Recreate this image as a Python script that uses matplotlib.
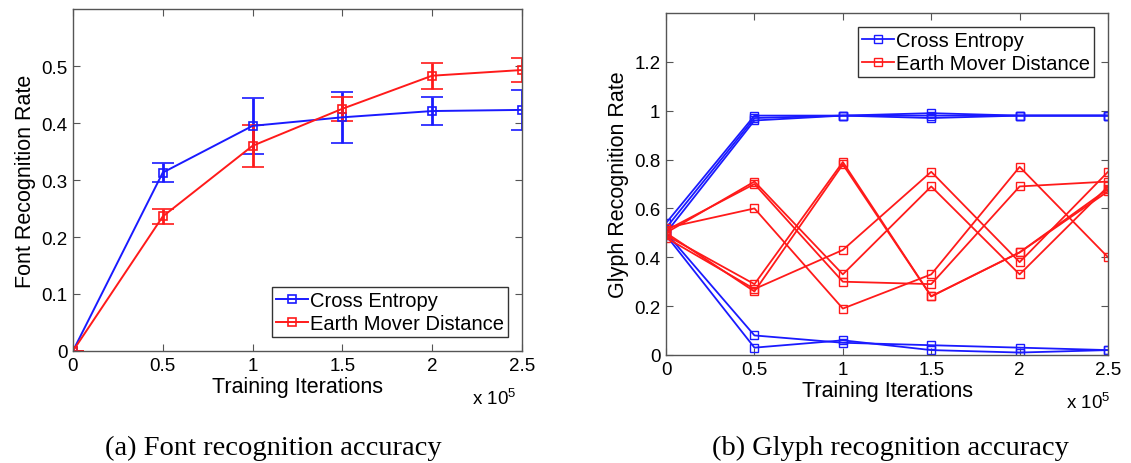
import matplotlib
matplotlib.use('Agg')
import matplotlib.pyplot as plt

plt.rcParams['font.family'] = ['Liberation Sans', 'DejaVu Sans']
plt.rcParams['mathtext.default'] = 'regular'

# training iterations (x 10^5)
iters = [0, 0.5, 1, 1.5, 2, 2.5]

# (a) font recognition rate with error bars
font_ce = [0, 0.313, 0.395, 0.410, 0.421, 0.423]
font_ce_err = [0, 0.017, 0.049, 0.045, 0.024, 0.035]
font_emd = [0, 0.236, 0.360, 0.425, 0.483, 0.493]
font_emd_err = [0, 0.014, 0.037, 0.021, 0.023, 0.021]

# (b) glyph recognition rate, one list per run
glyph_ce = [
    [0.54, 0.98, 0.98, 0.99, 0.98, 0.98],
    [0.52, 0.97, 0.98, 0.97, 0.98, 0.98],
    [0.50, 0.96, 0.98, 0.98, 0.98, 0.98],
    [0.50, 0.08, 0.05, 0.04, 0.03, 0.02],
    [0.49, 0.03, 0.06, 0.02, 0.01, 0.02],
]
glyph_emd = [
    [0.50, 0.71, 0.33, 0.69, 0.33, 0.69],
    [0.51, 0.70, 0.30, 0.29, 0.69, 0.71],
    [0.52, 0.60, 0.19, 0.33, 0.77, 0.40],
    [0.49, 0.29, 0.79, 0.24, 0.42, 0.67],
    [0.50, 0.26, 0.78, 0.24, 0.42, 0.68],
    [0.48, 0.27, 0.43, 0.75, 0.38, 0.75],
]

labels = ['Cross Entropy', 'Earth Mover Distance']
blue = '#1a1aff'
red = '#ff1a1a'
frame = '#555555'
serif = ['Liberation Serif', 'DejaVu Serif']


def style_axes(ax, ylim, yticks, yticklabels):
    ax.set_xlim(0, 2.5)
    ax.set_ylim(*ylim)
    ax.set_xticks(iters)
    ax.set_xticklabels(['0', '0.5', '1', '1.5', '2', '2.5'])
    ax.set_yticks(yticks)
    ax.set_yticklabels(yticklabels)
    ax.tick_params(direction='in', top=True, right=True, length=5,
                   width=0.8, color=frame, labelsize=13.5, pad=4)
    for s in ax.spines.values():
        s.set_color(frame)
        s.set_linewidth(1.0)
    ax.set_xlabel('Training Iterations', fontsize=15.5, labelpad=2)


def add_legend(ax, loc, handles=None):
    kw = dict(loc=loc, fontsize=14.5, fancybox=False, edgecolor='#333333',
              framealpha=1, borderpad=0.2, handlelength=1.6,
              handletextpad=0.1, labelspacing=0.2, borderaxespad=0.7)
    if handles is None:
        leg = ax.legend(**kw)
    else:
        leg = ax.legend(handles, labels, **kw)
    leg.get_frame().set_linewidth(1.0)
    return leg


fig = plt.figure(figsize=(11.31, 4.64), dpi=100)

ax = fig.add_axes([0.0645, 0.2414, 0.397, 0.737])
eb1 = ax.errorbar(iters, font_ce, yerr=font_ce_err, color=blue, lw=1.4,
                  elinewidth=2, capsize=8, capthick=2, marker='s', ms=6,
                  mfc='none', mew=1.2)
eb2 = ax.errorbar(iters, font_emd, yerr=font_emd_err, color=red, lw=1.4,
                  elinewidth=2, capsize=8, capthick=2, marker='s', ms=6,
                  mfc='none', mew=1.2)
style_axes(ax, (0, 0.6), [0, 0.1, 0.2, 0.3, 0.4, 0.5],
           ['0', '0.1', '0.2', '0.3', '0.4', '0.5'])
ax.set_ylabel('Font Recognition Rate', fontsize=15.5, labelpad=4)
add_legend(ax, 'lower right', handles=[eb1[0], eb2[0]])
fig.text(472 / 1131, 1 - 399 / 464, r'x 10$^5$', fontsize=13.5,
         va='center')

ax2 = fig.add_axes([0.5889, 0.2328, 0.3908, 0.737])
for i, run in enumerate(glyph_ce):
    ax2.plot(iters, run, color=blue, lw=1.3, marker='s', ms=6, mfc='none',
             mew=1.0, label=labels[0] if i == 0 else None)
for i, run in enumerate(glyph_emd):
    ax2.plot(iters, run, color=red, lw=1.3, marker='s', ms=6, mfc='none',
             mew=1.0, label=labels[1] if i == 0 else None)
style_axes(ax2, (0, 1.4), [0, 0.2, 0.4, 0.6, 0.8, 1.0, 1.2],
           ['0', '0.2', '0.4', '0.6', '0.8', '1', '1.2'])
ax2.set_ylabel('Glyph Recognition Rate', fontsize=15.5, labelpad=4)
add_legend(ax2, 'upper right')
fig.text(1066 / 1131, 1 - 403 / 464, r'x 10$^5$', fontsize=13.5,
         va='center')

fig.text(273 / 1131, 1 - 448 / 464, '(a) Font recognition accuracy',
         family=serif, fontsize=20.5, ha='center', va='center')
fig.text(890 / 1131, 1 - 448 / 464, '(b) Glyph recognition accuracy',
         family=serif, fontsize=20.5, ha='center', va='center')

fig.savefig('out.png', dpi=100)
